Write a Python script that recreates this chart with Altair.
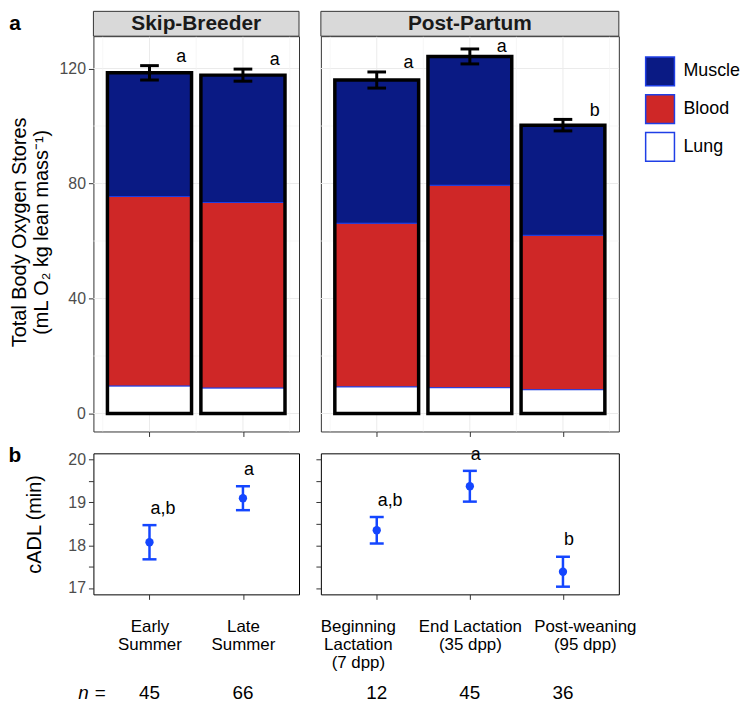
import json
import altair as alt
import pandas as pd

FONT = "Liberation Sans"

# ---------------- data ----------------
groups = ["Skip-Breeder", "Post-Partum"]
period_group = [0, 0, 1, 1, 1]
period_labels = [["Early", "Summer"], ["Late", "Summer"],
                 ["Beginning", "Lactation", "(7 dpp)"],
                 ["End Lactation", "(35 dpp)"], ["Post-weaning", "(95 dpp)"]]
components = ["Muscle", "Blood", "Lung"]
lung = [9.6, 8.9, 9.3, 9.0, 8.3]
blood = [65.9, 64.5, 56.9, 70.4, 53.7]
muscle = [43.0, 44.3, 49.8, 44.8, 38.3]
total_se = [2.5, 2.1, 2.8, 2.6, 2.0]
total_letters = ["a", "a", "a", "a", "b"]
cadl = [18.07, 19.10, 18.35, 19.38, 17.38]
cadl_se = [0.40, 0.28, 0.31, 0.36, 0.35]
cadl_letters = ["a,b", "a", "a,b", "a", "b"]
n_seals = [45, 66, 12, 45, 36]

# ---------------- style ----------------
NAVY = "#0a1a84"
RED = "#cf2727"
EDGE = "#1f3fe6"
PT_BLUE = "#1446ff"
GRID_MAJ = "#ebebeb"
GRID_MIN = "#f4f4f4"

TOP_H, BOT_H = 398, 142
W_L, W_R = 207, 300
STRIP_H = 25

one = pd.DataFrame({"k": [0]})


def anchor(x, y):
    # invisible 1px box that fixes the outer bounds of the figure
    return alt.Chart(one).mark_rect(fill="white", opacity=0).encode(
        x=alt.value(x), x2=alt.value(x + 1), y=alt.value(y), y2=alt.value(y + 1))


def top_panel(gi, width, first):
    idx = [i for i, g in enumerate(period_group) if g == gi]
    n = len(idx)
    xs = alt.Scale(domain=[0.4, n + 0.6], nice=False, zero=False)
    ys = alt.Scale(domain=[-6.25, 131.25], nice=False, zero=False)
    seg_rows, tot_rows = [], []
    for k, i in enumerate(idx):
        pos = k + 1
        base = 0.0
        for comp, val in (("Lung", lung[i]), ("Blood", blood[i]), ("Muscle", muscle[i])):
            seg_rows.append({"pos": pos, "comp": comp, "y0": base, "y1": base + val})
            base += val
        tot_rows.append({"pos": pos, "total": base, "lo": base - total_se[i],
                         "hi": base + total_se[i], "letter": total_letters[i]})
    seg = pd.DataFrame(seg_rows)
    tot = pd.DataFrame(tot_rows)

    if first:
        yaxis = alt.Axis(values=[0, 40, 80, 120], title=["Total Body Oxygen Stores", "(mL O\u2082 kg lean mass\u207b\u00b9)"],
                         titleFontSize=20, titleFontWeight="normal", titleColor="black",
                         titleX=-74, titleY=197, titleBaseline="middle", titleAlign="center",
                         titleAngle=270, titleLineHeight=22,
                         labelFontSize=16, labelColor="#4d4d4d", labelPadding=3,
                         tickSize=5, tickColor="#333333", domain=False, grid=False)
    else:
        yaxis = None
    xaxis = alt.Axis(values=list(range(1, n + 1)), labels=False, tickSize=5, tickColor="#333333",
                     domain=False, grid=False, title=None)

    def X(f):
        return alt.X(f, scale=xs, axis=xaxis)

    def Y(f):
        return alt.Y(f, scale=ys, axis=yaxis)

    legend = alt.Legend(orient="none", legendX=555, legendY=20, title=None, symbolType="square",
                        symbolSize=841, symbolStrokeColor=EDGE, symbolStrokeWidth=1.5,
                        labelFontSize=18, labelFont=FONT, labelColor="black", labelOffset=8, rowPadding=3)

    hmin = alt.Chart(pd.DataFrame({"v": [20, 60, 100]})).mark_rule(color=GRID_MIN, strokeWidth=0.7).encode(
        y=Y("v:Q"))
    hmaj = alt.Chart(pd.DataFrame({"v": [0, 40, 80, 120]})).mark_rule(color=GRID_MAJ, strokeWidth=1).encode(
        y=Y("v:Q"))
    vmin = alt.Chart(pd.DataFrame({"v": [k + 0.5 for k in range(n + 1)]})).mark_rule(
        color=GRID_MIN, strokeWidth=0.7).encode(x=X("v:Q"))
    vmaj = alt.Chart(pd.DataFrame({"v": list(range(1, n + 1))})).mark_rule(
        color=GRID_MAJ, strokeWidth=1).encode(x=X("v:Q"))

    bars = alt.Chart(seg).transform_calculate(
        xa="datum.pos - 0.45", xb="datum.pos + 0.45"
    ).mark_rect(stroke=EDGE, strokeWidth=1).encode(
        x=X("xa:Q"), x2="xb:Q", y=Y("y0:Q"), y2="y1:Q",
        color=alt.Color("comp:N", scale=alt.Scale(domain=components, range=[NAVY, RED, "white"]),
                        legend=legend))
    outline = alt.Chart(tot).transform_calculate(
        xa="datum.pos - 0.45", xb="datum.pos + 0.45", zero="0"
    ).mark_rect(fill="transparent", stroke="black", strokeWidth=3.5).encode(
        x=X("xa:Q"), x2="xb:Q", y=Y("total:Q"), y2="zero:Q")
    err = alt.Chart(tot).mark_rule(color="black", strokeWidth=3).encode(
        x=X("pos:Q"), y=Y("lo:Q"), y2="hi:Q")
    caps = alt.Chart(tot).transform_fold(["lo", "hi"], as_=["end", "yv"]).transform_calculate(
        ca="datum.pos - 0.1", cb="datum.pos + 0.1"
    ).mark_rule(color="black", strokeWidth=3).encode(
        x=X("ca:Q"), x2="cb:Q", y=Y("yv:Q"))
    letters = alt.Chart(tot).transform_calculate(ly="min(datum.hi + 3, 127.4)").mark_text(
        dx=32, fontSize=18, baseline="middle", font=FONT, color="black").encode(
        x=X("pos:Q"), y=Y("ly:Q"), text="letter:N")

    strip = alt.Chart(one).mark_rect(fill="#d9d9d9", stroke="#333333", strokeWidth=1).encode(
        x=alt.value(0), x2=alt.value(width), y=alt.value(-STRIP_H), y2=alt.value(0))
    strip_txt = alt.Chart(one).mark_text(fontSize=21, fontWeight="bold", font=FONT, color="#1a1a1a",
                                         baseline="middle", text=groups[gi]).encode(
        x=alt.value(width / 2), y=alt.value(-STRIP_H / 2 + 0.5))

    layers = [hmin, hmaj, vmin, vmaj, bars, outline, err, caps, letters, strip, strip_txt]
    if first:
        layers.append(alt.Chart(one).mark_text(text="a", fontSize=21, fontWeight="bold", font=FONT,
                                               color="black", baseline="middle").encode(
            x=alt.value(-79), y=alt.value(-12)))
        layers.append(anchor(-100, -45))
    return alt.layer(*layers).properties(width=width, height=TOP_H,
                                         view=alt.ViewBackground(stroke="#333333", strokeWidth=1))


def bottom_panel(gi, width, first):
    idx = [i for i, g in enumerate(period_group) if g == gi]
    n = len(idx)
    xs = alt.Scale(domain=[0.4, n + 0.6], nice=False, zero=False)
    ys = alt.Scale(domain=[16.85, 20.15], nice=False, zero=False)
    df = pd.DataFrame({
        "pos": list(range(1, n + 1)),
        "m": [cadl[i] for i in idx],
        "lo": [cadl[i] - cadl_se[i] for i in idx],
        "hi": [cadl[i] + cadl_se[i] for i in idx],
        "letter": [cadl_letters[i] for i in idx],
        "n": [n_seals[i] for i in idx],
    })
    lines = json.dumps([period_labels[i] for i in idx])
    xkw = dict(values=list(range(1, n + 1)), labelExpr=f"{lines}[datum.value - 1]",
               labelFont=FONT, labelFontSize=17, labelLineHeight=18.5, labelColor="black",
               labelPadding=19, labelOverlap=False, labelFlush=False,
               tickSize=5, tickColor="#333333", domain=False, grid=False, title=None)
    if not first:
        xkw["labelOffset"] = {"condition": [{"test": "datum.value == 1", "value": -19},
                                            {"test": f"datum.value == {n}", "value": 22}],
                              "value": 0}
    xaxis = alt.Axis(**xkw)
    yvals = [17 + 0.5 * k for k in range(7)]
    if first:
        yaxis = alt.Axis(values=yvals, labelExpr="datum.value % 1 == 0 ? format(datum.value, 'd') : ''",
                         labelFontSize=16, labelColor="#4d4d4d", labelPadding=3,
                         tickSize=5, tickColor="#333333", domain=False, grid=False,
                         title="cADL (min)", titleFontSize=20, titleFontWeight="normal", titleColor="black",
                         titleX=-59, titleY=71, titleBaseline="middle", titleAlign="center", titleAngle=270)
    else:
        yaxis = alt.Axis(values=yvals, labels=False, tickSize=5, tickColor="#333333",
                         domain=False, grid=False, title=None)

    def X(f):
        return alt.X(f, scale=xs, axis=xaxis)

    def Y(f):
        return alt.Y(f, scale=ys, axis=yaxis)

    points = alt.Chart(df).mark_point(filled=True, size=70, opacity=1, color=PT_BLUE).encode(
        x=X("pos:Q"), y=Y("m:Q"))
    err = alt.Chart(df).mark_rule(color=PT_BLUE, strokeWidth=2.5).encode(
        x=X("pos:Q"), y=Y("lo:Q"), y2="hi:Q")
    caps = alt.Chart(df).transform_fold(["lo", "hi"], as_=["end", "yv"]).transform_calculate(
        ca="datum.pos - 0.075", cb="datum.pos + 0.075"
    ).mark_rule(color=PT_BLUE, strokeWidth=2.5).encode(
        x=X("ca:Q"), x2="cb:Q", y=Y("yv:Q"))
    letters = alt.Chart(df).transform_calculate(ly="datum.hi + 0.38").mark_text(
        align="left", dx=1, fontSize=18, baseline="middle", font=FONT, color="black").encode(
        x=X("pos:Q"), y=Y("ly:Q"), text="letter:N")
    ntext = alt.Chart(df).mark_text(fontSize=19, font=FONT, baseline="middle", color="black").encode(
        x=X("pos:Q"), y=alt.value(241), text="n:Q")

    layers = [points, err, caps, letters, ntext]
    if first:
        layers.append(alt.Chart(one).mark_text(text="n", fontSize=19, fontStyle="italic", font=FONT,
                                               color="black", baseline="middle").encode(
            x=alt.value(-10), y=alt.value(241)))
        layers.append(alt.Chart(one).mark_text(text="=", fontSize=19, font=FONT,
                                               color="black", baseline="middle").encode(
            x=alt.value(7), y=alt.value(241)))
        layers.append(alt.Chart(one).mark_text(text="b", fontSize=21, fontWeight="bold", font=FONT,
                                               color="black", baseline="middle").encode(
            x=alt.value(-79), y=alt.value(3)))
        layers.append(anchor(-100, 250))
    return alt.layer(*layers).properties(width=width, height=BOT_H,
                                         view=alt.ViewBackground(stroke="black", strokeWidth=1))


chart = alt.concat(
    top_panel(0, W_L, True), top_panel(1, W_R, False),
    bottom_panel(0, W_L, True), bottom_panel(1, W_R, False),
    columns=2, spacing=22, bounds="flush"
).resolve_scale(
    x="independent", y="independent", color="shared"
).properties(
    padding={"left": -15, "top": -20, "right": 0, "bottom": -3}
).configure(font=FONT)

chart.save("out.html", embed_options={"renderer": "svg", "actions": False})
